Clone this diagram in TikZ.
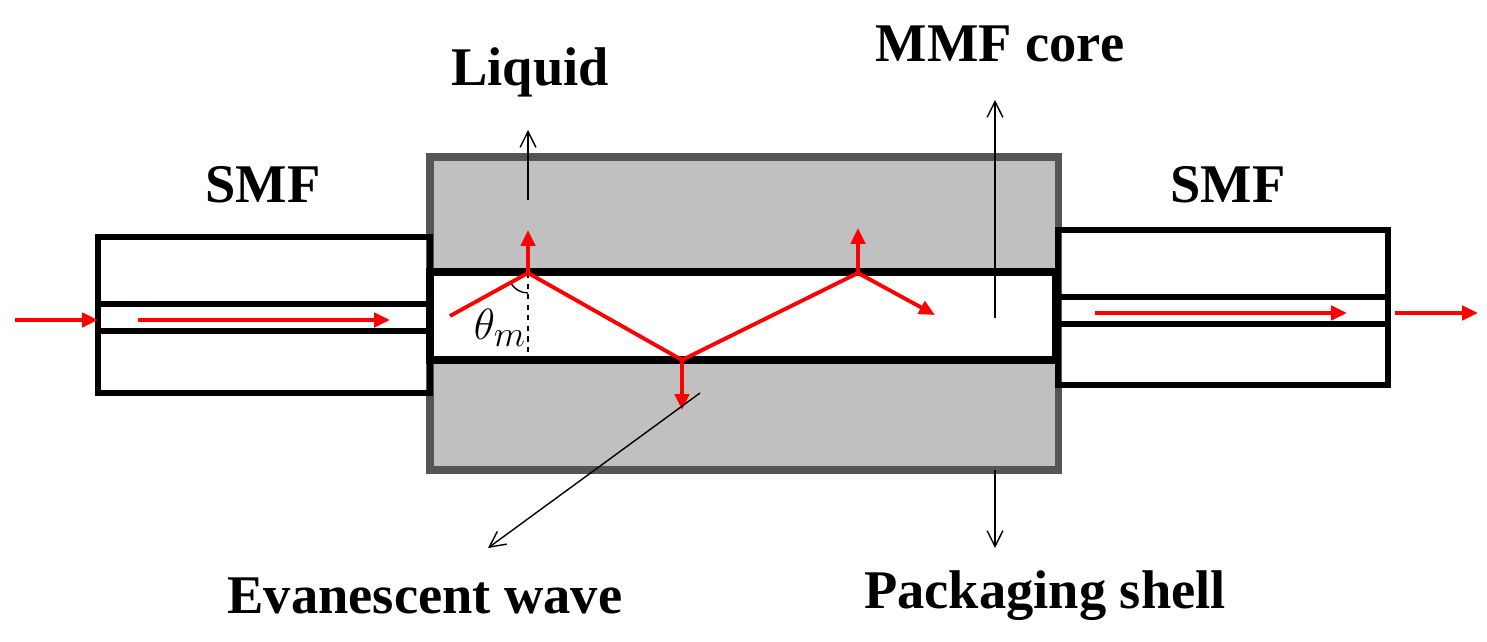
\documentclass[tikz,border=0pt]{standalone}
\usepackage{fontspec}
\setmainfont{Liberation Serif}
\usetikzlibrary{arrows.meta}
\begin{document}
\begin{tikzpicture}[x=0.02cm,y=-0.02cm,
  lbl/.style={font=\bfseries\fontsize{31}{36}\selectfont},
  ray/.style={red,line width=2.2pt},
  rarr/.style={ray,-{Triangle[length=9pt,width=8pt]}},
  thin/.style={black,line width=0.8pt,-{Straight Barb[length=9pt,width=9pt]}},
  frame/.style={black,line width=3pt}]
\useasboundingbox (0,0) rectangle (1487,642);
% shell
\draw[fill={rgb,255:red,192;green,192;blue,192},draw={rgb,255:red,85;green,85;blue,85},line width=4pt] (430,157) rectangle (1058,470);
% SMFs
\draw[frame] (98,237) rectangle (430,393);
\draw[frame] (98,304) rectangle (430,331);
\draw[frame] (1058,230) rectangle (1388,385);
\draw[frame] (1058,297) rectangle (1388,324);
% MMF core
\draw[frame,fill=white,line width=4pt] (430,272) rectangle (1055,360);
% coordinates
\coordinate (r0) at (450,316);
\coordinate (r1) at (528,273);
\coordinate (r2) at (682,360);
\coordinate (r3) at (858,273);
\coordinate (r4) at (935,315);
\draw[dashed,line width=0.8pt] (r1) -- (528,355);
\draw[line width=0.8pt] (r1) ++(-17.3,10) arc[start angle=150,end angle=90,radius=20];
\draw[ray] (r0) -- (r1) -- (r2) -- (r3);
\draw[rarr] (r3) -- (r4);
\draw[rarr] (r1) -- (528,230);
\draw[rarr] (r3) -- (858,228);
\draw[rarr] (r2) -- (682,410);
\node at (500,328) {\fontsize{30}{34}\selectfont$\theta_m$};
% red straight arrows
\coordinate (a0) at (15,320); \coordinate (a1) at (98,320);
\draw[rarr] (a0) -- (a1);
\coordinate (b0) at (138,320); \coordinate (b1) at (390,320);
\draw[rarr] (b0) -- (b1);
\coordinate (c0) at (1095,313); \coordinate (c1) at (1347,313);
\draw[rarr] (c0) -- (c1);
\coordinate (d0) at (1395,313); \coordinate (d1) at (1478,313);
\draw[rarr] (d0) -- (d1);
% labels
\node[lbl] (liq) at (530,72) {Liquid};
\node[lbl] (mmf) at (1000,44) {MMF core};
\node[lbl] (s1) at (263,185) {SMF};
\node[lbl] (s2) at (1228,185) {SMF};
\node[lbl] (ev) at (425,596) {Evanescent wave};
\node[lbl] (ps) at (1045,596) {Packaging shell};
% pointers
\coordinate (p1) at (528,200); \coordinate (p1e) at (528,130);
\draw[thin] (p1) -- (p1e);
\coordinate (p2) at (995,318); \coordinate (p2e) at (995,100);
\draw[thin] (p2) -- (p2e);
\coordinate (p3) at (700,393); \coordinate (p3e) at (488,548);
\draw[thin] (p3) -- (p3e);
\coordinate (p4) at (995,470); \coordinate (p4e) at (995,548);
\draw[thin] (p4) -- (p4e);
\end{tikzpicture}
\end{document}
